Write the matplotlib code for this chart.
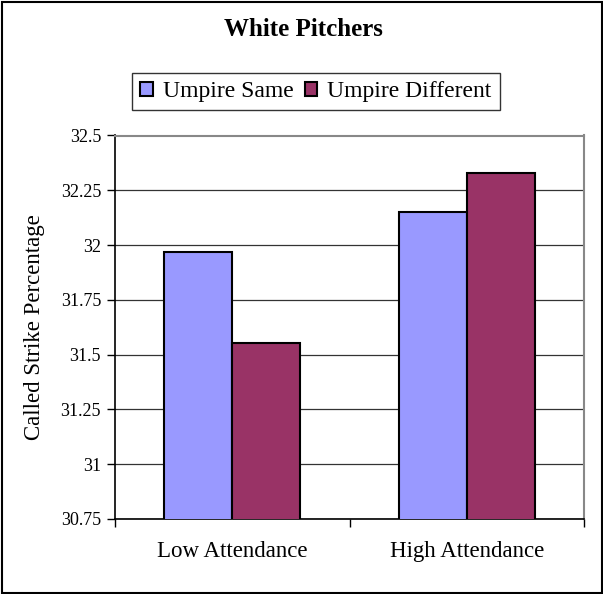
import matplotlib
matplotlib.use("Agg")
import matplotlib.pyplot as plt
from matplotlib.patches import Rectangle
import numpy as np

categories = ["Low Attendance", "High Attendance"]
series_names = ["Umpire Same", "Umpire Different"]
umpire_same = [31.97, 32.15]
umpire_diff = [31.555, 32.327]
yticks = [30.75, 31, 31.25, 31.5, 31.75, 32, 32.25, 32.5]
ytick_labels = ["30.75", "31", "31.25", "31.5", "31.75", "32", "32.25", "32.5"]

plt.rcParams['font.family'] = ['Liberation Serif', 'DejaVu Serif']

fig = plt.figure(figsize=(6.03, 5.94), dpi=100)
ax = fig.add_axes([115/603, 1 - 519/594, (584-115)/603, (519-135.5)/594])

x = np.arange(len(categories))
w = 0.29
ax.bar(x - w/2, umpire_same, w, bottom=0, color="#9999FF", edgecolor="black", linewidth=1.5, label=series_names[0], zorder=3)
ax.bar(x + w/2, umpire_diff, w, bottom=0, color="#993366", edgecolor="black", linewidth=1.5, label=series_names[1], zorder=3)

ax.set_ylim(30.75, 32.5)
ax.set_xlim(-0.5, 1.5)
ax.set_yticks(yticks)
ax.set_yticklabels(ytick_labels, fontsize=13)
ax.yaxis.grid(True, color="#333333", linewidth=0.9, zorder=0)
ax.set_axisbelow(True)

ax.set_xticks([-0.5, 0.5, 1.5])
ax.set_xticklabels([])
ax.set_xticks(x, minor=True)
ax.set_xticklabels(categories, minor=True, fontsize=16.5)
ax.tick_params(axis='x', which='minor', length=0, pad=16)
ax.tick_params(axis='x', which='major', length=6, direction='out', width=1)
ax.tick_params(axis='y', length=6, direction='out', width=1, pad=4)

for s in ['left', 'bottom']:
    ax.spines[s].set_color('black')
    ax.spines[s].set_linewidth(1.2)
for s in ['top', 'right']:
    ax.spines[s].set_color('#888888')
    ax.spines[s].set_linewidth(1.5)

ax.set_ylabel("Called Strike Percentage", fontsize=16.5)
ax.yaxis.set_label_coords((45 - 115) / 469, 0.5)

fig.text(303/603, 1 - 30/594, "White Pitchers", ha='center', va='center', fontsize=18, fontweight='bold')

leg = fig.legend(loc='center', bbox_to_anchor=(316/603, 1 - 91.5/594), ncol=2, fontsize=17,
                 frameon=True, fancybox=False, edgecolor='black', handlelength=0.52, handleheight=0.52,
                 handletextpad=0.42, columnspacing=0.5, borderpad=0.35)
leg.get_frame().set_linewidth(1.0)
for h in leg.legend_handles:
    h.set_linewidth(1.5)

fig.patches.append(Rectangle((1.5/603, 1.5/594), 1 - 3/603, 1 - 3/594, transform=fig.transFigure,
                             fill=False, edgecolor='black', linewidth=1.5))

fig.savefig("out.png", dpi=100)
